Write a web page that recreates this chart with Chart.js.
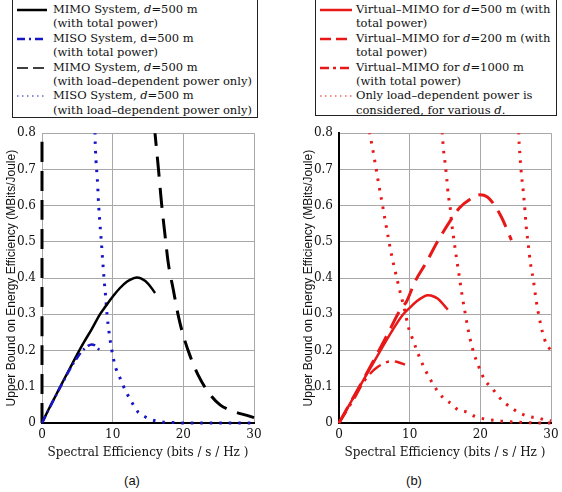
<!DOCTYPE html>
<html>
<head>
<meta charset="utf-8">
<script src="https://cdn.jsdelivr.net/npm/chart.js@4/dist/chart.umd.min.js"></script>
<style>
  html, body { margin:0; padding:0; background:#fff; }
  body { width:562px; height:492px; position:relative; overflow:hidden; }
  canvas { position:absolute; }
  .legend { position:absolute; border:1.3px solid #222; background:#fff; box-sizing:border-box;
            font-family:"DejaVu Serif", serif; font-size:11.5px; line-height:14.4px; color:#111; white-space:nowrap; }
  .entry { position:relative; padding-left:40px; }
  .entry svg { position:absolute; left:3px; top:3px; }
  .cap { position:absolute; font-family:"Liberation Sans", Arial, sans-serif; font-size:13px; color:#111;
         transform:translate(-50%,-50%); }
</style>
</head>
<body>
<div class="legend" id="legA" style="left:12px; top:-2px; width:246px; height:120px; padding-top:3px;">
  <div class="entry"><svg width="32" height="10"><line x1="1" y1="5" x2="31" y2="5" stroke="#000" stroke-width="2.5"/></svg>MIMO System, <i>d</i>=500 m<br>(with total power)</div>
  <div class="entry"><svg width="32" height="10"><line x1="1" y1="5" x2="31" y2="5" stroke="#1616c8" stroke-width="2.5" stroke-dasharray="8,4,2,4"/></svg>MISO System, d=500 m<br>(with total power)</div>
  <div class="entry"><svg width="32" height="10"><line x1="1" y1="5" x2="31" y2="5" stroke="#000" stroke-width="1.5" stroke-dasharray="11,5"/></svg>MIMO System, <i>d</i>=500 m<br>(with load–dependent power only)</div>
  <div class="entry"><svg width="32" height="10"><line x1="1" y1="5" x2="31" y2="5" stroke="#1616c8" stroke-width="1" stroke-dasharray="1.5,3.5"/></svg>MISO System, <i>d</i>=500 m<br>(with load–dependent power only)</div>
</div>
<div class="legend" id="legB" style="left:315px; top:-2px; width:242px; height:118px; padding-top:3px;">
  <div class="entry"><svg width="34" height="10"><line x1="1" y1="5" x2="33" y2="5" stroke="#e81818" stroke-width="2.5"/></svg>Virtual–MIMO for <i>d</i>=500 m (with<br>total power)</div>
  <div class="entry"><svg width="34" height="10"><line x1="1" y1="5" x2="33" y2="5" stroke="#e81818" stroke-width="2.5" stroke-dasharray="11,5"/></svg>Virtual–MIMO for <i>d</i>=200 m (with<br>total power)</div>
  <div class="entry"><svg width="34" height="10"><line x1="1" y1="5" x2="33" y2="5" stroke="#e81818" stroke-width="2.5" stroke-dasharray="9,4,3,4"/></svg>Virtual–MIMO for <i>d</i>=1000 m<br>(with total power)</div>
  <div class="entry"><svg width="34" height="10"><line x1="1" y1="5" x2="33" y2="5" stroke="#e81818" stroke-width="1" stroke-dasharray="1.5,3.5"/></svg>Only load–dependent power is<br>considered, for various <i>d</i>.</div>
</div>
<canvas id="cA" width="270" height="340" style="left:0px; top:120px;"></canvas>
<canvas id="cB" width="270" height="340" style="left:297px; top:120px;"></canvas>
<div class="cap" style="left:132px; top:480px;">(a)</div>
<div class="cap" style="left:414px; top:480px;">(b)</div>
<script>
// ---------- axis ticks ----------
const xTicks = [0, 10, 20, 30];
const yTicks = [0, 0.1, 0.2, 0.3, 0.4, 0.5, 0.6, 0.7, 0.8];
const xTitle = "Spectral Efficiency (bits / s / Hz )";
const yTitle = "Upper Bound on Energy Efficiency (MBits/Joule)";

// ---------- chart (a) ----------
const mimoTotalX = [0, 1, 2, 3, 4, 5, 6, 7, 8.2, 9, 10.1, 11, 12, 13, 13.4, 14, 15, 16];
const mimoTotalY = [0, 0.04, 0.078, 0.116, 0.153, 0.19, 0.225, 0.258, 0.3, 0.322, 0.351, 0.372, 0.39, 0.4, 0.402, 0.399, 0.385, 0.359];

const misoTotalX = [0, 1, 2, 3, 4, 5, 5.5, 6, 6.5, 7.03, 7.5, 8, 8.35];
const misoTotalY = [0, 0.039, 0.077, 0.114, 0.15, 0.181, 0.194, 0.205, 0.213, 0.217, 0.214, 0.204, 0.196];

const mimoLoadAxisX = [0, 0];
const mimoLoadAxisY = [0, 0.8];
const mimoLoadX = [15.9, 15.99, 16.46, 16.9, 17.4, 17.88, 18.58, 19.3, 20, 20.94, 22.1, 23.5, 25.2, 27.1, 29, 30];
const mimoLoadY = [0.82, 0.8, 0.705, 0.61, 0.52, 0.44, 0.368, 0.295, 0.241, 0.186, 0.132, 0.086, 0.05, 0.032, 0.021, 0.015];

const misoLoadX = [7.48, 7.5, 7.64, 7.83, 8.02, 8.2, 8.4, 8.58, 8.77, 9.0, 9.2, 9.48, 9.86, 10.42, 10.94, 11.42, 11.98, 12.69, 13.6, 14.5, 15.5, 17, 19, 20, 25, 30];
const misoLoadY = [0.83, 0.8, 0.725, 0.674, 0.6, 0.55, 0.5, 0.45, 0.4, 0.35, 0.3, 0.252, 0.202, 0.153, 0.129, 0.106, 0.083, 0.058, 0.03, 0.018, 0.009, 0.003, 0.001, 0, 0, 0];

// ---------- chart (b) ----------
const vm500X = [0, 4.6, 9, 10, 11, 12, 12.55, 13, 14, 15, 15.4];
const vm500Y = [0, 0.157, 0.298, 0.318, 0.336, 0.349, 0.353, 0.352, 0.343, 0.322, 0.313];

const vm200X = [0, 4, 7, 8.6, 9.6, 10.75, 12.26, 14.06, 15.95, 17.1, 18.5, 19.95, 21, 21.8, 23, 24.4];
const vm200Y = [0, 0.14, 0.25, 0.31, 0.337, 0.39, 0.44, 0.505, 0.564, 0.595, 0.617, 0.63, 0.624, 0.607, 0.568, 0.505];

const vm1000X = [0, 2.26, 3.44, 4.5, 5.5, 6.6, 7.5, 8.16, 9.34];
const vm1000Y = [0, 0.071, 0.112, 0.138, 0.155, 0.167, 0.171, 0.169, 0.161];

const loadAX = [4.1, 4.29, 4.76, 5.19, 5.61, 6.08, 6.51, 6.98, 7.45, 8.02, 8.63, 9.25, 9.8, 10.2, 10.66, 11.1, 11.55, 12.07, 12.7, 13.35, 14.06, 14.9, 15.95, 16.8, 18.1, 19.25, 20.66, 23, 25.6, 28.4, 30];
const loadAY = [0.83, 0.806, 0.757, 0.709, 0.66, 0.61, 0.562, 0.511, 0.462, 0.413, 0.363, 0.315, 0.266, 0.243, 0.219, 0.196, 0.174, 0.152, 0.128, 0.106, 0.085, 0.067, 0.052, 0.037, 0.03, 0.018, 0.011, 0.005, 0.002, 0, 0];

const loadBX = [14.55, 14.62, 14.8, 15.0, 15.24, 15.47, 15.7, 15.96, 16.3, 16.67, 17.04, 17.42, 17.84, 18.3, 18.9, 19.7, 20.66, 21.7, 22.5, 23.5, 24.6, 25.6, 26.9, 28.2, 29.4, 30];
const loadBY = [0.83, 0.8, 0.752, 0.72, 0.676, 0.628, 0.6, 0.55, 0.5, 0.45, 0.402, 0.352, 0.305, 0.255, 0.205, 0.159, 0.118, 0.095, 0.075, 0.055, 0.039, 0.027, 0.018, 0.014, 0.007, 0.006];

const loadCX = [25.4, 25.45, 25.6, 25.8, 26.07, 26.3, 26.5, 26.8, 27.1, 27.5, 27.85, 28.3, 28.8, 29.35, 29.8, 30];
const loadCY = [0.83, 0.79, 0.74, 0.69, 0.64, 0.59, 0.54, 0.49, 0.44, 0.395, 0.345, 0.295, 0.25, 0.218, 0.205, 0.2];

// ---------- helpers ----------
function pts(xs, ys) { return xs.map((x, i) => ({ x: x, y: ys[i] })); }
const BLACK = '#000000', BLUE = '#1616c8', RED = '#e81818';
function ds(xs, ys, color, width, dash, order) {
  return {
    data: pts(xs, ys), borderColor: color, backgroundColor: color, borderWidth: width,
    borderDash: dash, borderCapStyle: 'butt', pointRadius: 0, fill: false, showLine: true,
    cubicInterpolationMode: 'monotone', order: order,
    clip: { left: 4, top: 0, right: 3, bottom: 4 }
  };
}
const serif = "'DejaVu Serif', serif";
const sans = "'Liberation Sans', Arial, sans-serif";

function makeChart(id, datasets, yBorder) {
  return new Chart(document.getElementById(id), {
    type: 'line',
    data: { datasets: datasets },
    options: {
      responsive: false, animation: false, devicePixelRatio: 1,
      layout: { padding: { left: 0, right: 16, top: 9, bottom: 0 } },
      plugins: { legend: { display: false }, tooltip: { enabled: false } },
      scales: {
        x: {
          type: 'linear', min: 0, max: 30,
          afterBuildTicks: s => { s.ticks = xTicks.map(v => ({ value: v })); },
          afterFit: s => { s.height = 37; },
          grid: { color: '#a8a8a8', lineWidth: 1, drawTicks: false },
          border: { display: true, color: '#000', width: 2 },
          ticks: { font: { family: serif, size: 12 }, color: '#111', padding: 5, maxRotation: 0 },
          title: { display: true, text: xTitle, font: { family: serif, size: 12 }, color: '#111', padding: { top: 0, bottom: 0 } }
        },
        y: {
          type: 'linear', min: 0, max: 0.8,
          afterBuildTicks: s => { s.ticks = yTicks.map(v => ({ value: v })); },
          afterFit: s => { s.width = 42; },
          grid: { color: '#a8a8a8', lineWidth: 1, drawTicks: false },
          border: yBorder,
          ticks: { font: { family: serif, size: 12 }, color: '#111', padding: 6,
                   callback: v => String(Math.round(v * 10) / 10) },
          title: { display: true, text: yTitle, font: { family: sans, size: 12 }, color: '#111', padding: { top: 4, bottom: 0 } }
        }
      }
    }
  });
}

makeChart('cA', [
  ds(misoTotalX, misoTotalY, BLUE, 2.5, [8, 4, 2, 4], 0),
  ds(mimoTotalX, mimoTotalY, BLACK, 2.5, [], 1),
  ds(mimoLoadAxisX, mimoLoadAxisY, BLACK, 3, [20, 9], 2),
  ds(mimoLoadX, mimoLoadY, BLACK, 3, [20, 11], 2),
  ds(misoLoadX, misoLoadY, BLUE, 3, [2.5, 7], 3)
], { display: false });

makeChart('cB', [
  ds(vm500X, vm500Y, RED, 2.5, [], 0),
  ds(vm200X, vm200Y, RED, 3, [18, 9], 1),
  ds(vm1000X, vm1000Y, RED, 2.5, [14, 6, 3, 6], 2),
  ds(loadAX, loadAY, RED, 3, [2.5, 7], 3),
  ds(loadBX, loadBY, RED, 3, [2.5, 7], 3),
  ds(loadCX, loadCY, RED, 3, [2.5, 7], 3)
], { display: true, color: '#000', width: 2 });
</script>
</body>
</html>
